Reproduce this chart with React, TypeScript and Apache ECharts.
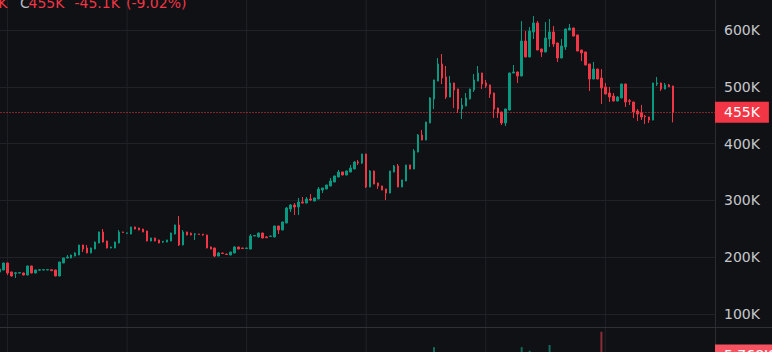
import React, { useEffect, useRef } from "react";
import * as echarts from "echarts";

// ---- data (prices in thousands) ----
const opens = [
  174.0, 177.5, 189.8, 174.0, 171.5, 172.0, 172.2, 168.7, 184.5, 172.2,
  177.0, 177.5, 177.5, 177.9, 177.5, 166.9, 189.8, 198.6, 198.6, 202.1,
  203.9, 221.5, 216.2, 207.4, 214.4, 225.0, 244.4, 228.5, 216.2, 216.2,
  225.0, 244.4, 242.0, 240.8, 253.2, 251.4, 249.6, 246.1, 228.5, 233.8,
  230.3, 226.7, 226.7, 228.5, 240.8, 256.7, 221.5, 244.4, 242.0, 240.3,
  240.8, 240.5, 239.1, 217.9, 216.2, 202.1, 207.4, 205.6, 203.9, 207.4,
  217.9, 216.2, 215.3, 214.4, 237.3, 235.6, 242.6, 235.6, 236.5, 235.6,
  254.9, 247.9, 260.2, 284.9, 291.9, 288.4, 297.2, 295.4, 302.5, 298.9,
  302.5, 318.3, 320.1, 325.4, 332.4, 341.2, 350.0, 344.7, 350.0, 355.3,
  367.6, 365.8, 381.7, 323.6, 351.8, 330.6, 325.4, 320.1, 313.0, 350.0,
  360.6, 323.6, 334.2, 362.3, 355.3, 385.2, 415.1, 406.3, 436.3, 478.5,
  510.2, 540.1, 517.3, 482.0, 506.7, 496.1, 460.9, 466.2, 478.5, 494.4,
  510.2, 524.3, 506.7, 503.2, 489.1, 462.7, 455.6, 436.3, 459.2, 524.3,
  526.1, 519.0, 580.6, 552.5, 596.5, 612.3, 566.5, 561.3, 584.2, 596.5,
  577.1, 550.7, 570.1, 600.0, 603.5, 591.2, 564.8, 561.3, 540.1, 513.7,
  531.3, 515.5, 499.6, 489.1, 483.8, 475.0, 480.3, 504.9, 475.5, 473.2,
  457.4, 453.9, 448.6, 446.8, 441.5, 504.9, 506.7, 496.1, 503.2, 501.4,
];
const closes = [
  179.2, 189.8, 172.2, 166.9, 172.5, 173.0, 168.7, 184.5, 172.2, 177.5,
  178.0, 178.0, 178.2, 176.2, 166.9, 191.5, 198.6, 200.3, 203.9, 207.4,
  221.5, 214.4, 207.4, 216.2, 226.7, 244.4, 226.7, 216.2, 217.9, 226.7,
  244.4, 243.5, 242.8, 253.2, 249.6, 247.9, 244.4, 228.5, 233.8, 228.5,
  225.0, 228.0, 230.3, 242.6, 256.7, 221.5, 244.4, 239.1, 239.1, 241.0,
  240.0, 239.1, 216.2, 214.4, 202.1, 207.4, 206.6, 204.8, 209.1, 217.9,
  214.4, 215.3, 216.2, 237.3, 238.2, 242.6, 233.8, 234.2, 237.3, 254.9,
  247.9, 262.0, 286.6, 291.9, 288.4, 297.2, 295.4, 302.5, 300.7, 304.2,
  320.1, 321.8, 327.1, 334.2, 343.0, 350.0, 344.7, 351.8, 357.0, 367.6,
  365.8, 381.7, 323.6, 351.8, 328.9, 325.4, 318.3, 313.0, 351.8, 360.6,
  323.6, 335.9, 362.3, 355.3, 387.0, 415.1, 406.3, 438.0, 480.3, 512.0,
  540.1, 515.5, 482.0, 506.7, 494.4, 460.9, 468.0, 480.3, 496.1, 512.0,
  524.3, 504.9, 501.4, 487.3, 460.9, 453.9, 436.3, 460.9, 524.3, 526.1,
  519.0, 580.6, 552.5, 598.2, 612.3, 564.8, 561.3, 585.9, 596.5, 575.4,
  550.7, 571.8, 601.8, 603.5, 589.4, 563.0, 559.5, 538.4, 513.7, 531.3,
  513.7, 497.9, 487.3, 482.0, 475.0, 482.0, 504.9, 473.2, 474.5, 455.6,
  452.1, 446.8, 447.5, 441.5, 506.7, 506.7, 496.1, 503.2, 500.1, 455.0,
];
const highs = [
  180.0, 190.5, 190.5, 174.5, 174.0, 173.5, 173.0, 185.0, 185.0, 178.0,
  178.5, 178.5, 178.5, 178.2, 178.0, 192.0, 199.0, 203.9, 204.5, 209.0,
  222.0, 222.0, 221.5, 216.8, 227.5, 245.0, 249.6, 229.0, 218.5, 227.5,
  247.9, 245.0, 243.3, 253.8, 253.8, 252.0, 250.0, 246.6, 234.3, 234.3,
  230.8, 228.5, 230.8, 243.1, 257.2, 272.5, 247.9, 244.9, 243.5, 242.6,
  241.2, 241.0, 239.6, 219.0, 216.7, 209.1, 207.9, 206.1, 209.6, 219.7,
  218.4, 216.7, 216.7, 240.8, 238.7, 243.1, 243.1, 237.3, 237.8, 255.4,
  255.4, 262.5, 288.4, 293.7, 295.4, 304.2, 306.0, 306.0, 311.3, 304.7,
  323.6, 322.3, 327.6, 339.4, 343.5, 353.5, 350.5, 352.3, 362.3, 369.4,
  371.1, 382.2, 382.2, 353.5, 352.3, 331.1, 325.9, 320.6, 352.3, 362.3,
  364.1, 336.4, 362.8, 362.8, 390.5, 416.9, 424.0, 438.5, 482.0, 512.5,
  550.7, 557.7, 536.6, 519.0, 507.2, 496.6, 480.3, 489.1, 496.6, 522.5,
  536.6, 524.8, 512.0, 503.7, 489.6, 463.2, 456.1, 461.4, 524.8, 538.4,
  526.6, 615.8, 598.2, 605.3, 624.6, 615.8, 567.0, 614.1, 619.4, 607.0,
  577.6, 584.2, 602.3, 610.6, 604.0, 591.7, 565.3, 561.8, 540.6, 543.7,
  531.8, 531.3, 506.7, 499.6, 489.1, 483.8, 505.4, 505.4, 478.5, 473.7,
  460.9, 468.0, 450.4, 447.3, 507.2, 517.3, 507.2, 506.7, 504.9, 501.9,
];
const lows = [
  173.0, 177.0, 168.7, 166.0, 163.4, 171.5, 168.0, 168.0, 171.5, 171.5,
  176.5, 177.0, 177.0, 176.0, 166.5, 166.5, 189.5, 198.0, 198.0, 201.5,
  203.5, 209.1, 207.0, 207.0, 214.0, 224.5, 226.0, 215.5, 215.8, 215.8,
  224.5, 243.0, 241.5, 240.3, 249.0, 247.4, 244.0, 228.0, 228.0, 228.0,
  224.5, 225.0, 226.2, 228.0, 240.3, 219.7, 221.0, 238.6, 238.6, 230.3,
  239.5, 237.8, 215.7, 213.9, 200.3, 201.6, 206.1, 204.3, 203.4, 206.9,
  213.9, 214.8, 214.8, 213.9, 236.8, 235.1, 233.3, 233.8, 236.0, 235.1,
  240.8, 247.4, 259.7, 279.6, 274.3, 274.3, 294.9, 294.9, 298.9, 298.4,
  302.0, 313.0, 319.6, 324.9, 331.9, 340.7, 344.2, 344.2, 349.5, 354.8,
  362.3, 364.1, 321.8, 323.1, 328.4, 320.1, 317.8, 300.7, 312.5, 349.5,
  323.1, 323.1, 333.7, 354.8, 354.8, 384.7, 405.8, 405.8, 435.8, 460.9,
  509.7, 504.9, 478.5, 481.5, 462.7, 453.9, 443.3, 465.7, 478.0, 490.8,
  509.7, 496.1, 497.9, 480.3, 445.1, 445.1, 432.7, 431.0, 458.7, 523.8,
  506.7, 518.5, 552.0, 552.0, 584.2, 564.3, 552.5, 560.8, 570.1, 570.1,
  543.7, 550.2, 564.8, 599.5, 588.9, 562.5, 545.4, 537.9, 492.6, 513.2,
  513.2, 469.7, 486.8, 473.2, 474.5, 474.5, 479.8, 464.4, 468.0, 445.1,
  439.8, 441.5, 434.5, 436.3, 441.0, 501.4, 492.6, 495.6, 499.6, 437.4,
];
// volume in thousands
const volumes = [
  2.1, 2.8, 3.4, 2.0, 1.8, 1.2, 1.5, 2.9, 2.6, 1.7,
  1.1, 0.9, 1.0, 1.2, 2.4, 3.6, 2.2, 1.6, 1.9, 1.8,
  3.1, 2.5, 2.3, 1.7, 2.2, 3.3, 3.0, 2.4, 1.3, 2.0,
  3.2, 1.4, 1.1, 2.6, 1.8, 1.5, 1.6, 2.9, 1.7, 1.6,
  1.9, 1.2, 1.4, 2.5, 3.4, 5.2, 3.8, 1.9, 1.5, 1.8,
  1.2, 1.3, 3.0, 1.9, 2.8, 1.7, 1.1, 1.2, 1.6, 2.3,
  1.5, 1.0, 1.1, 3.2, 1.4, 2.1, 2.0, 1.3, 1.2, 3.0,
  2.4, 2.7, 4.6, 2.8, 3.1, 3.5, 2.0, 2.2, 2.6, 1.9,
  3.3, 2.4, 2.2, 2.9, 2.7, 2.8, 2.1, 2.0, 2.6, 3.0,
  2.5, 3.4, 6.1, 4.8, 4.2, 2.9, 2.7, 3.8, 5.3, 3.2,
  5.0, 3.1, 4.1, 2.6, 4.4, 5.2, 3.9, 4.7, 6.4, 8.4,
  6.2, 6.0, 5.8, 4.3, 4.9, 5.1, 4.6, 3.9, 3.6, 4.2,
  4.0, 3.8, 2.9, 3.3, 4.8, 3.5, 4.1, 4.4, 6.3, 3.0,
  3.2, 8.4, 5.9, 7.2, 5.5, 6.3, 3.7, 5.6, 9.1, 5.4,
  5.0, 4.5, 5.7, 3.4, 3.9, 4.6, 3.1, 4.3, 5.5, 3.8,
  3.6, 13.5, 4.7, 3.5, 3.2, 2.8, 4.1, 4.5, 2.6, 4.0,
  3.4, 3.6, 2.9, 2.7, 6.0, 3.1, 3.3, 2.5, 2.4, 5.768,
];
const totalSlots = 180; // 170 sessions + empty space on the right
const sessionLabels = Array.from({ length: totalSlots }, (_, i) => `D${i + 1}`);
const timeGridIdx = [2, 32, 62, 92, 122, 152];
const priceTicks = { min: 0, max: 700, interval: 100 };

const UP = "#089981";
const DOWN = "#F23645";
const UP_VOL = "#13695a";
const DOWN_VOL = "#8e2c36";
const BG = "#101115";
const GRID = "#202227";
const TEXT = "#c5c7cc";
const FONT = "DejaVu Sans";

// the chart canvas is larger than the page and shifted, so the panes can extend past the edges
const OFF_X = 10;
const OFF_Y = 40;
const CW = 772 + OFF_X;
const CH = 352 + OFF_Y + 40;

export default function App() {
  const ref = useRef<HTMLDivElement>(null);
  useEffect(() => {
    if (!ref.current) return;
    const chart = echarts.init(ref.current, null, { renderer: "svg" });
    const last = closes.length - 1;
    const lastClose = closes[last];
    const prevClose = closes[last - 1];
    const change = lastClose - prevClose;
    const pct = (change / prevClose) * 100;
    const lastDown = lastClose < opens[last];

    const candleData = opens.map((o, i) => [o, closes[i], lows[i], highs[i]]);
    const volData = volumes.map((v, i) => ({
      value: v,
      itemStyle: { color: closes[i] >= opens[i] ? UP_VOL : DOWN_VOL },
    }));

    const gridLeft = OFF_X - 2.5;
    const gridRight = CW - (OFF_X + 715);

    chart.setOption({
      animation: false,
      backgroundColor: BG,
      grid: [
        { left: gridLeft, right: gridRight, top: OFF_Y - 26.8, height: 397.6 },
        { left: gridLeft, right: gridRight, top: OFF_Y + 327, height: 45.3 },
      ],
      xAxis: [
        {
          type: "category", gridIndex: 0, data: sessionLabels, boundaryGap: true,
          axisLine: { show: false }, axisTick: { show: false }, axisLabel: { show: false },
          splitLine: { show: false },
        },
        {
          type: "category", gridIndex: 1, data: sessionLabels, boundaryGap: true,
          axisLine: { show: false }, axisTick: { show: false }, axisLabel: { show: false },
          splitLine: { show: false },
        },
      ],
      yAxis: [
        {
          type: "value", gridIndex: 0, position: "right",
          min: priceTicks.min, max: priceTicks.max, interval: priceTicks.interval,
          axisLine: { show: true, lineStyle: { color: "#2a2c32", width: 1 } },
          axisTick: { show: false },
          axisLabel: {
            color: TEXT, fontSize: 14, fontFamily: FONT, margin: 9,
            formatter: (v: number) => `${v}K`,
          },
          splitLine: { show: true, lineStyle: { color: GRID, width: 1 } },
        },
        {
          type: "value", gridIndex: 1, position: "right", min: 0, max: 15.1, show: false,
          splitLine: { show: false },
        },
      ],
      series: [
        {
          type: "candlestick",
          xAxisIndex: 0, yAxisIndex: 0,
          data: candleData,
          barWidth: 2,
          clip: false,
          itemStyle: {
            color: UP, color0: DOWN, borderColor: UP, borderColor0: DOWN, borderWidth: 1,
          },
          markLine: {
            silent: true,
            symbol: ["none", "none"],
            data: [{ yAxis: lastClose }],
            lineStyle: { color: lastDown ? DOWN : UP, type: [1, 2], width: 1 },
            label: {
              show: true, position: "end", distance: 0,
              formatter: () => `${Math.round(lastClose)}K`,
              color: "#ffffff", backgroundColor: lastDown ? DOWN : UP,
              padding: [4, 9, 3, 9], fontSize: 14, fontFamily: FONT,
            },
          },
        },
        {
          type: "bar",
          xAxisIndex: 1, yAxisIndex: 1,
          data: volData,
          barWidth: 2,
          clip: false,
          markLine: {
            silent: true,
            symbol: ["none", "none"],
            data: [{ yAxis: volumes[last] }],
            lineStyle: { color: "rgba(0,0,0,0)", width: 1, opacity: 1 },
            label: {
              show: true, position: "end", distance: 0,
              formatter: () => `${volumes[last].toFixed(3)}K`,
              color: "#ffffff", backgroundColor: "#f7525f", opacity: 1,
              padding: [4, 9, 3, 9], fontSize: 14, fontFamily: FONT,
            },
          },
        },
      ],
    });

    const gx = timeGridIdx.map((k) => chart.convertToPixel({ xAxisIndex: 0 }, k) as number);
    const font = `14px "${FONT}"`;
    const ty = OFF_Y + 2.5;
    chart.setOption({
      graphic: [
        ...gx.map((x) => ({
          type: "line", z: 0, silent: true,
          shape: { x1: x, y1: OFF_Y, x2: x, y2: OFF_Y + 352 },
          style: { stroke: GRID, lineWidth: 1 },
        })),
        {
          type: "line", z: 1, silent: true,
          shape: { x1: 0, y1: OFF_Y + 327.5, x2: CW, y2: OFF_Y + 327.5 },
          style: { stroke: "#2f3137", lineWidth: 1 },
        },
        {
          type: "text", x: OFF_X + 7.5, y: ty, z: 10,
          style: { text: `L${Math.round(lows[last])}K`, fill: DOWN, font, align: "right", verticalAlign: "middle" },
        },
        {
          type: "text", x: OFF_X + 20, y: ty, z: 10,
          style: { text: "C", fill: "#b9bcc3", font, align: "left", verticalAlign: "middle" },
        },
        {
          type: "text", x: OFF_X + 28.5, y: ty, z: 10,
          style: { text: `${Math.round(lastClose)}K`, fill: DOWN, font, align: "left", verticalAlign: "middle" },
        },
        {
          type: "text", x: OFF_X + 74.5, y: ty, z: 10,
          style: { text: `${change.toFixed(1)}K`, fill: DOWN, font, align: "left", verticalAlign: "middle" },
        },
        {
          type: "text", x: OFF_X + 126, y: ty, z: 10,
          style: { text: `(${pct.toFixed(2)}%)`, fill: DOWN, font, align: "left", verticalAlign: "middle" },
        },
      ],
    });

    return () => chart.dispose();
  }, []);

  return (
    <div style={{ position: "fixed", left: 0, top: 0, width: 772, height: 352, overflow: "hidden", background: BG }}>
      <div
        ref={ref}
        style={{ position: "absolute", left: -OFF_X, top: -OFF_Y, width: CW, height: CH }}
      />
    </div>
  );
}
